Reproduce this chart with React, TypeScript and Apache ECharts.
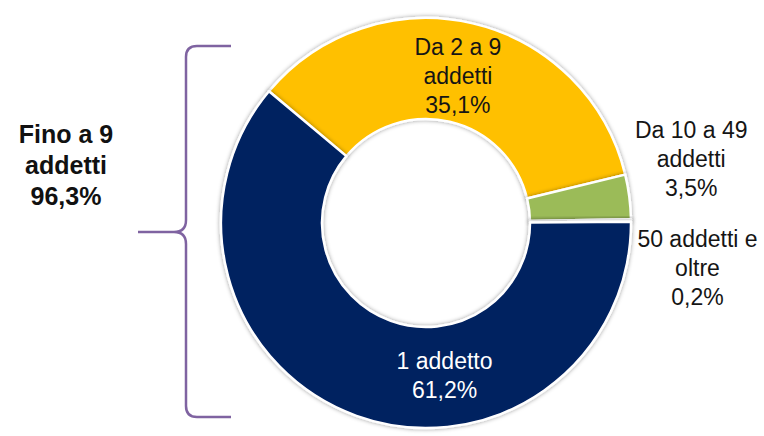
import React, { useEffect, useRef } from "react";
import * as echarts from "echarts";

// ---- data ----
const categories = ["Da 2 a 9 addetti", "Da 10 a 49 addetti", "50 addetti e oltre", "1 addetto"];
const labelNames = ["Da 2 a 9\naddetti", "Da 10 a 49\naddetti", "50 addetti e\noltre", "1 addetto"];
const values = [35.1, 3.5, 0.2, 61.2];
const groupName = "Fino a 9\naddetti";
const groupMembers = ["1 addetto", "Da 2 a 9 addetti"];

// ---- styles ----
const sliceColors = ["#FFC000", "#9BBB59", "#E6B9B8", "#002060"];
const labelColors = ["#151515", "#151515", "#151515", "#FFFFFF"];
const labelOffsets: [number, number][] = [[-4, 6], [109, -44], [114, 47], [72, 4]];
const braceColor = "#7F63A1";
const bracePath =
  "M 231 46 L 197 46 Q 186 46 186 57 L 186 220 Q 186 232 174 232 L 138 232 M 174 232 Q 186 232 186 244 L 186 406 Q 186 417 197 417 L 231 417";

const fmt = (v: number) => v.toFixed(1).replace(".", ",") + "%";

let registered = false;

export default function App() {
  const ref = useRef<HTMLDivElement>(null);
  useEffect(() => {
    if (!ref.current) return;
    if (!registered) {
      echarts.graphic.registerShape("brace", echarts.graphic.extendPath(bracePath, {}));
      registered = true;
    }
    const chart = echarts.init(ref.current, undefined, { renderer: "svg" });
    const groupTotal = categories.reduce(
      (s, c, i) => (groupMembers.includes(c) ? s + values[i] : s),
      0
    );
    const font = "'Liberation Sans', Arial, sans-serif";
    chart.setOption({
      animation: false,
      backgroundColor: "#FFFFFF",
      series: [
        {
          type: "pie",
          center: [426, 223],
          radius: [104, 205],
          startAngle: 140,
          clockwise: true,
          avoidLabelOverlap: false,
          minShowLabelAngle: 0,
          itemStyle: {
            borderColor: "#FFFFFF",
            borderWidth: 2.5,
            shadowBlur: 4,
            shadowColor: "rgba(0,0,0,0.4)",
          },
          emphasis: { disabled: true },
          labelLine: { show: false },
          label: {
            show: true,
            position: "inside",
            fontFamily: font,
            fontSize: 23,
            lineHeight: 29,
            align: "center",
          },
          labelLayout: (p: any) => ({
            dx: labelOffsets[p.dataIndex][0],
            dy: labelOffsets[p.dataIndex][1],
          }),
          data: categories.map((c, i) => ({
            name: c,
            value: values[i],
            itemStyle: { color: sliceColors[i] },
            label: {
              color: labelColors[i],
              formatter: () => labelNames[i] + "\n" + fmt(values[i]),
            },
          })),
        },
      ],
      graphic: [
        {
          type: "brace",
          x: 0,
          y: 0,
          shape: {},
          style: { fill: "none", stroke: braceColor, lineWidth: 2.5 },
        },
        {
          type: "text",
          x: 66,
          y: 165,
          style: {
            text: groupName + "\n" + fmt(groupTotal),
            fontFamily: font,
            fontWeight: "bold",
            fontSize: 25,
            lineHeight: 31,
            fill: "#111111",
            align: "center",
            verticalAlign: "middle",
          },
        },
      ],
    });
    return () => chart.dispose();
  }, []);
  return (
    <div
      ref={ref}
      style={{ position: "fixed", left: 0, top: 0, width: 764, height: 436 }}
    />
  );
}
